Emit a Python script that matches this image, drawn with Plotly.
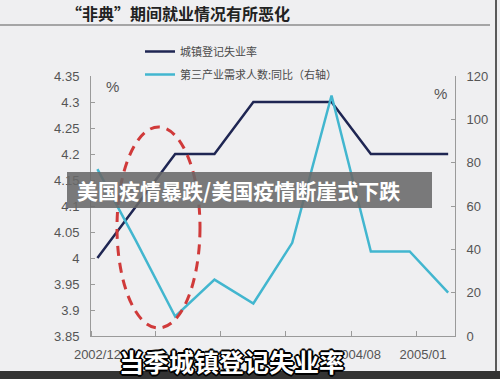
import plotly.graph_objects as go

# ---- data ----
quarters = ["2002-12-16", "2003-03-16", "2003-06-16", "2003-09-16", "2003-12-16",
            "2004-03-16", "2004-06-16", "2004-09-16", "2004-12-16", "2005-03-16"]
unemployment = [4.0, 4.1, 4.2, 4.2, 4.3, 4.3, 4.3, 4.2, 4.2, 4.2]
tertiary_demand_yoy = [77, 44, 9, 26, 15, 43, 111, 39, 39, 20]
x_tick_dates = ["2002-12-16", "2003-05-16", "2003-10-16", "2004-03-16", "2004-08-16", "2005-01-16"]
# middle labels are hidden under the caption in the reference
x_tick_labels = ["2002/12", "", "", "", "2004/08", "2005/01"]
series_names = ["城镇登记失业率", "第三产业需求人数:同比（右轴）"]
title_text = "“非典”期间就业情况有所恶化"
banner_text = "美国疫情暴跌/美国疫情断崖式下跌"
caption_text = "当季城镇登记失业率"

W, H = 500, 379
L, R, T, B = 91, 45, 76, 43
pw, ph = W - L - R, H - T - B

def px(x):
    return (x - L) / pw

def py(y):
    return (H - B - y) / ph

cjk = "Noto Sans CJK SC"
latin = "Liberation Sans, Arial, sans-serif"
bg = "#efeff1"
axis_col = "#9a9a9a"
lab_col = "#555555"

fig = go.Figure()
fig.add_trace(go.Scatter(x=quarters, y=unemployment, name=series_names[0], mode="lines",
                         legendgroup="a",
                         line=dict(color="#1f2653", width=2.5), yaxis="y"))
fig.add_trace(go.Scatter(x=quarters, y=tertiary_demand_yoy, name=series_names[1], mode="lines",
                         legendgroup="b",
                         line=dict(color="#42b6cf", width=2.5), yaxis="y2"))

fig.update_layout(
    width=W, height=H,
    margin=dict(l=L, r=R, t=T, b=B, pad=0),
    paper_bgcolor=bg, plot_bgcolor=bg,
    showlegend=True,
    legend=dict(x=px(140), y=py(37), xanchor="left", yanchor="top", traceorder="grouped",
                bgcolor="rgba(0,0,0,0)", font=dict(family=cjk, size=11, color="#4a4a4a"),
                tracegroupgap=4),
    xaxis=dict(type="date", range=["2002-12-01", "2005-04-01"],
               tickvals=x_tick_dates, ticktext=x_tick_labels, ticks="",
               showline=True, linecolor=axis_col, linewidth=1, showgrid=False, zeroline=False,
               tickfont=dict(family=latin, size=13, color=lab_col), ticklabelstandoff=6,
               minor=dict(ticks="inside", ticklen=5, tickcolor=axis_col, tick0="2002-12-01",
                          dtick="M5", showgrid=False)),
    yaxis=dict(range=[3.85, 4.35], dtick=0.05, tick0=3.85, tickformat=".3~g",
               ticks="inside", ticklen=4, tickcolor=axis_col, showline=True, linecolor=axis_col,
               linewidth=1, showgrid=False, zeroline=False,
               tickfont=dict(family=latin, size=13, color=lab_col), ticklabelstandoff=8),
    yaxis2=dict(range=[0, 120], dtick=20, overlaying="y", side="right",
                ticks="inside", ticklen=4, tickcolor=axis_col, showline=True, linecolor=axis_col,
                linewidth=1, showgrid=False, zeroline=False,
                tickfont=dict(family=latin, size=13, color=lab_col), ticklabelstandoff=8),
)

shapes = [
    # header rule
    dict(type="line", xref="paper", yref="paper", x0=px(0), x1=px(490), y0=py(25), y1=py(25),
         line=dict(color="#8c8c8c", width=1.5)),
    # right photo edge
    dict(type="line", xref="paper", yref="paper", x0=px(496), x1=px(496), y0=py(0), y1=py(379),
         line=dict(color="#5a5a5a", width=2)),
    # bottom dark band
    dict(type="rect", xref="paper", yref="paper", x0=px(0), x1=px(500), y0=py(379), y1=py(371),
         fillcolor="#333333", line=dict(width=0), layer="above"),
    # red dashed ellipse
    dict(type="circle", xref="paper", yref="paper", x0=px(117), x1=px(200), y0=py(328), y1=py(127),
         line=dict(color="#d03a3a", width=3, dash="10px,7px"), layer="above"),
    # grey banner
    dict(type="rect", xref="paper", yref="paper", x0=px(67), x1=px(432), y0=py(208), y1=py(172),
         fillcolor="rgba(105,105,105,0.88)", line=dict(width=0), layer="above"),
]
fig.update_layout(shapes=shapes)

outline = ("1px 1px 0 #000, -1px -1px 0 #000, 1px -1px 0 #000, -1px 1px 0 #000, "
           "2px 0 0 #000, -2px 0 0 #000, 0 2px 0 #000, 0 -2px 0 #000")
annotations = [
    dict(text=title_text, xref="paper", yref="paper", x=px(178), y=py(13), xanchor="center",
         yanchor="middle", showarrow=False,
         font=dict(family=cjk, size=16, color="#222222", weight="bold")),
    dict(text="%", xref="paper", yref="paper", x=px(112), y=py(86), xanchor="center",
         yanchor="middle", showarrow=False, font=dict(family=latin, size=15, color="#555555")),
    dict(text="%", xref="paper", yref="paper", x=px(440), y=py(93), xanchor="center",
         yanchor="middle", showarrow=False, font=dict(family=latin, size=15, color="#555555")),
    dict(text=banner_text, xref="paper", yref="paper", x=px(75), y=py(190), xanchor="left",
         yanchor="middle", showarrow=False,
         font=dict(family=cjk, size=21, color="#ffffff", weight="bold")),
    dict(text=caption_text, xref="paper", yref="paper", x=px(231), y=py(361), xanchor="center",
         yanchor="middle", showarrow=False,
         font=dict(family=cjk, size=25, color="#ffffff", weight="bold", shadow=outline)),
]
fig.update_layout(annotations=annotations)

fig.write_html("out.html", config={"displayModeBar": False},
               post_script="document.body.style.margin='0px';")
